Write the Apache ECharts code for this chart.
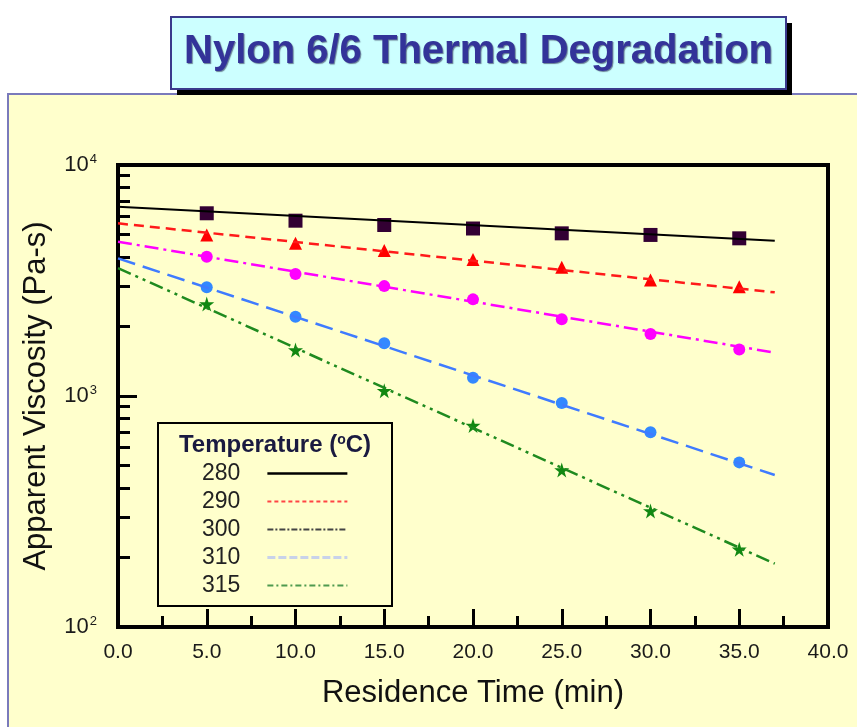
<!DOCTYPE html>
<html>
<head>
<meta charset="utf-8">
<script src="https://cdn.jsdelivr.net/npm/echarts@6/dist/echarts.min.js"></script>
<style>
html,body{margin:0;padding:0;background:#fff;}
#chart{width:857px;height:727px;}
</style>
</head>
<body>
<div id="chart"></div>
<script>
// ---- data ----
var temperatures = ['280', '290', '300', '310', '315'];
var residenceTimes = [5, 10, 15, 20, 25, 30, 35];
var visc280 = [6180, 5740, 5500, 5310, 5060, 4980, 4815];
var visc290 = [4980, 4580, 4260, 3900, 3610, 3180, 2970];
var visc300 = [4010, 3375, 2990, 2620, 2150, 1855, 1590];
var visc310 = [2955, 2205, 1690, 1200, 933, 696, 516];
var visc315 = [2500, 1582, 1055, 745, 478, 318, 217];
var fitTimes = [0, 37];
var fit280 = [6600, 4700];
var fit290 = [5590, 2810];
var fit300 = [4655, 1540];
var fit310 = [3945, 455];
var fit315 = [3580, 188];
var xTicks = [0, 5, 10, 15, 20, 25, 30, 35, 40];
var yMajor = [100, 1000, 10000];
var yMinor = [200, 300, 400, 500, 600, 700, 800, 900, 2000, 3000, 4000, 5000, 6000, 7000, 8000, 9000];

var measured = [visc280, visc290, visc300, visc310, visc315];
var fits = [fit280, fit290, fit300, fit310, fit315];

function pairs(xs, ys) { return xs.map(function (x, i) { return [x, ys[i]]; }); }

var FONT = "'Liberation Sans', Arial, sans-serif";
var STAR = 'path://M50,0 L61,35 L98,35 L68,57 L79,91 L50,70 L21,91 L32,57 L2,35 L39,35 Z';

var lineStyles = [
  { color: '#000000', width: 2, type: 'solid' },
  { color: '#ff1a1a', width: 2.5, type: [10, 6] },
  { color: '#ff00ff', width: 2.5, type: [14, 5, 3, 5] },
  { color: '#3f7bff', width: 2.5, type: [18, 8] },
  { color: '#1f8a1f', width: 2.5, type: [14, 5, 3, 5, 3, 5] }
];
var markerStyles = [
  { symbol: 'rect', size: 14, color: '#330033' },
  { symbol: 'triangle', size: 13, color: '#ff0000' },
  { symbol: 'circle', size: 12, color: '#ff00ff' },
  { symbol: 'circle', size: 12, color: '#3388ff' },
  { symbol: STAR, size: 15, color: '#118811' }
];
var legendLines = [
  { color: '#000000', width: 2.5, type: 'solid' },
  { color: '#ff4444', width: 2, type: [4, 3] },
  { color: '#444444', width: 2, type: [6, 2, 2, 2] },
  { color: '#c8d2ea', width: 3, type: [8, 3] },
  { color: '#4f9a4f', width: 2, type: [6, 3, 2, 3] }
];

var series = [];
temperatures.forEach(function (t, i) {
  series.push({
    name: t,
    type: 'line',
    data: pairs(fitTimes, fits[i]),
    showSymbol: false,
    symbol: 'none',
    lineStyle: lineStyles[i],
    itemStyle: { color: lineStyles[i].color },
    z: 3,
    silent: true
  });
});
temperatures.forEach(function (t, i) {
  series.push({
    name: t + ' measured',
    type: 'scatter',
    data: pairs(residenceTimes, measured[i]),
    symbol: markerStyles[i].symbol,
    symbolSize: markerStyles[i].size,
    itemStyle: { color: markerStyles[i].color, opacity: 1 },
    z: 2,
    silent: true
  });
});

var chart = echarts.init(document.getElementById('chart'), null, { renderer: 'canvas' });
chart.setOption({
  backgroundColor: '#ffffff',
  animation: false,
  title: {
    text: 'Nylon 6/6 Thermal Degradation',
    left: 171,
    top: 17,
    padding: [15, 13, 15, 13],
    textStyle: {
      fontFamily: FONT,
      fontWeight: 'bold',
      fontSize: 40,
      lineHeight: 40,
      color: '#333399',
      textShadowColor: 'rgba(20,20,60,0.55)',
      textShadowOffsetX: 1,
      textShadowOffsetY: 1,
      textShadowBlur: 1
    },
    z: 10
  },
  graphic: [
    {
      type: 'rect', z: -10, silent: true,
      shape: { x: 8, y: 94, width: 870, height: 660 },
      style: { fill: '#ffffcc', stroke: '#7a7abb', lineWidth: 2 }
    },
    {
      type: 'rect', z: 1, silent: true,
      shape: { x: 177, y: 23, width: 615, height: 72 },
      style: { fill: '#000000' }
    },
    {
      type: 'rect', z: 2, silent: true,
      shape: { x: 171, y: 17, width: 615, height: 72 },
      style: { fill: '#ccffff', stroke: '#3a3a8c', lineWidth: 2 }
    },
    {
      type: 'rect', z: 1, silent: true,
      shape: { x: 158, y: 423, width: 234, height: 183 },
      style: { fill: '#ffffcc', stroke: '#000000', lineWidth: 2 }
    },
    {
      type: 'text', z: 5, silent: true,
      x: 275, y: 445,
      style: {
        text: '{a|Temperature (}{s|o}{a|C)}',
        align: 'center', verticalAlign: 'middle',
        rich: {
          a: { fontFamily: FONT, fontWeight: 'bold', fontSize: 24, fill: '#1a1a40', color: '#1a1a40' },
          s: { fontFamily: FONT, fontWeight: 'bold', fontSize: 14, fill: '#1a1a40', color: '#1a1a40', verticalAlign: 'top', padding: [0, 0, 10, 0] }
        }
      }
    }
  ],
  legend: {
    show: true,
    orient: 'vertical',
    align: 'right',
    left: 202,
    top: 462,
    padding: 0,
    itemWidth: 80,
    itemHeight: 14,
    itemGap: 5,
    selectedMode: false,
    textStyle: { fontFamily: FONT, fontSize: 23, lineHeight: 23, color: '#222222', padding: [0, 22, 0, 0] },
    data: temperatures.map(function (t, i) {
      return { name: t, lineStyle: legendLines[i], itemStyle: { opacity: 0 } };
    }),
    z: 6
  },
  grid: {
    left: 118, right: 29, top: 165, bottom: 100,
    show: true, borderColor: '#000000', borderWidth: 4, backgroundColor: 'transparent'
  },
  xAxis: {
    type: 'value',
    min: 0, max: 40, interval: 5,
    name: 'Residence Time (min)',
    nameLocation: 'middle',
    nameGap: 51,
    nameTextStyle: { fontFamily: FONT, fontSize: 31, color: '#111111' },
    axisLine: { show: false },
    axisTick: { show: true, inside: true, length: 18, lineStyle: { color: '#000', width: 3 } },
    minorTick: { show: true, splitNumber: 2, length: 11, lineStyle: { color: '#000', width: 3 } },
    splitLine: { show: false },
    axisLabel: {
      margin: 15,
      fontFamily: FONT, fontSize: 21, color: '#1a1a1a',
      formatter: function (v) { return v.toFixed(1); }
    }
  },
  yAxis: [
    {
      type: 'log', logBase: 10, min: 100, max: 10000,
      position: 'left',
      name: 'Apparent Viscosity (Pa-s)',
      nameLocation: 'middle',
      nameGap: 66,
      nameTextStyle: { fontFamily: FONT, fontSize: 31, color: '#111111' },
      axisLine: { show: false },
      axisTick: { show: true, inside: true, length: 19, lineStyle: { color: '#000', width: 3 } },
      splitLine: { show: false },
      axisLabel: {
        margin: 21,
        formatter: function (v) {
          return '{b|10}{s|' + Math.round(Math.log10(v)) + '}';
        },
        rich: {
          b: { fontFamily: FONT, fontSize: 22, color: '#1a1a1a' },
          s: { fontFamily: FONT, fontSize: 13, color: '#1a1a1a', verticalAlign: 'top', padding: [0, 0, 11, 1] }
        }
      }
    },
    {
      type: 'log', logBase: 10, min: 100, max: 10000,
      position: 'left',
      axisLine: { show: false },
      axisLabel: { show: false },
      splitLine: { show: false },
      axisTick: { show: true, inside: true, length: 12, customValues: yMinor, lineStyle: { color: '#000', width: 3 } }
    }
  ],
  series: series
});
</script>
</body>
</html>
